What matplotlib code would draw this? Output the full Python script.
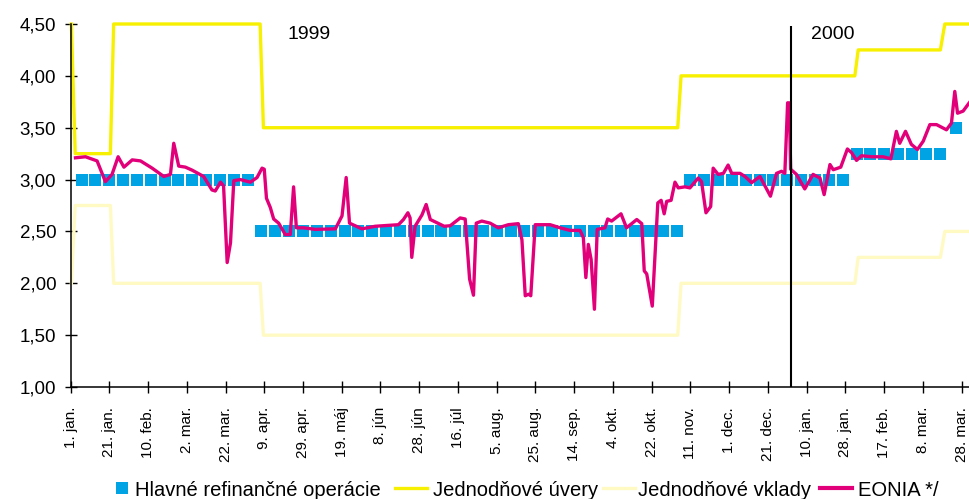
import matplotlib
matplotlib.use('Agg')
import matplotlib.pyplot as plt
from matplotlib.lines import Line2D

plt.rcParams['font.family'] = ['Liberation Sans', 'DejaVu Sans']

# ---- data (x = business-day index since 1 Jan 1999) ----
tick_days = [0, 14, 28, 42, 56, 70, 84, 98, 112, 126, 140, 154, 168, 182,
             196, 210, 224, 238, 252, 266, 280, 294, 308, 322]
tick_labels = ['1. jan.', '21. jan.', '10. feb.', '2. mar.', '22. mar.', '9. apr.',
               '29. apr.', '19. máj', '8. jún', '28. jún', '16. júl', '5. aug.',
               '25. aug.', '14. sep.', '4. okt.', '22. okt.', '11. nov.', '1. dec.',
               '21. dec.', '10. jan.', '28. jan.', '17. feb.', '8. mar.', '28. mar.']

# standing facilities (vertices of the step lines)
sf_days = [0.3, 1.7, 14.4, 15.6, 68.5, 69.7, 219.4, 220.6, 283.4, 284.6, 314.3, 315.9, 325]
lending_rate = [4.50, 3.25, 3.25, 4.50, 4.50, 3.50, 3.50, 4.00, 4.00, 4.25, 4.25, 4.50, 4.50]
deposit_rate = [2.00, 2.75, 2.75, 2.00, 2.00, 1.50, 1.50, 2.00, 2.00, 2.25, 2.25, 2.50, 2.50]

# main refinancing operations (weekly tenders): first day, last day, rate
mro_segments = [(4, 64, 3.00), (69, 219, 2.50), (224, 279, 3.00), (284, 314, 3.25), (320, 320, 3.50)]

# EONIA
eonia_days = [1.8, 5.4, 9.6, 12.6, 15.0, 17.2, 19.3, 22.3, 25.3, 29.5, 33.7, 36.1, 37.3, 39.1,
              41.5, 44.0, 48.1, 51.1, 52.3, 54.2, 55.3, 56.6, 57.8, 59.0, 61.4, 65.0, 67.4,
              69.2, 70.0, 70.8, 72.2, 73.4, 75.2, 77.6, 79.4, 80.6, 81.6, 84.2, 88.4, 95.7,
              98.1, 99.6, 100.8, 105.3, 110.1, 118.5, 120.3, 121.9, 122.7, 123.3, 124.5,
              127.0, 128.5, 130.0, 135.0, 137.2, 140.8, 142.6, 144.2, 145.6, 146.6, 148.6,
              151.6, 154.6, 158.2, 161.8, 163.1, 164.3, 165.5, 166.3, 167.9, 173.3, 176.9,
              180.5, 184.1, 185.3, 186.2, 187.1, 188.1, 189.3, 190.3, 193.1, 194.1, 195.5,
              198.9, 200.9, 204.6, 206.4, 207.3, 208.2, 210.2, 212.2, 213.4, 214.5, 215.4,
              217.0, 218.4, 219.6, 222.0, 223.8, 226.8, 228.0, 229.6, 231.3, 232.2, 234.0,
              235.9, 237.6, 238.9, 241.9, 243.7, 246.1, 249.1, 250.9, 252.9, 255.1, 256.9,
              258.1, 259.1, 259.7, 260.2, 262.3, 265.3, 268.3, 270.8, 272.3, 274.4, 275.6,
              278.3, 280.7, 282.2, 284.0, 285.8, 289.4, 293.6, 296.4, 298.4, 299.6, 301.7,
              303.8, 306.0, 308.1, 310.5, 312.9, 316.5, 318.3, 319.5, 320.5, 322.5, 325.0]
eonia_vals = [3.21, 3.22, 3.18, 2.98, 3.05, 3.22, 3.12, 3.19, 3.18, 3.11, 3.03, 3.05, 3.35, 3.13,
              3.12, 3.09, 3.03, 2.90, 2.89, 2.975, 2.94, 2.20, 2.39, 2.99, 3.00, 2.975, 3.02,
              3.11, 3.10, 2.82, 2.73, 2.62, 2.58, 2.47, 2.47, 2.93, 2.535, 2.535, 2.52, 2.525,
              2.65, 3.02, 2.58, 2.525, 2.55, 2.565, 2.615, 2.68, 2.63, 2.25, 2.55,
              2.66, 2.76, 2.615, 2.55, 2.555, 2.63, 2.62, 2.04, 1.885, 2.58, 2.60,
              2.58, 2.535, 2.565, 2.575, 2.42, 1.88, 1.895, 1.88, 2.565, 2.565, 2.535,
              2.51, 2.51, 2.44, 2.055, 2.375, 2.23, 1.75, 2.52, 2.535, 2.62, 2.60,
              2.67, 2.535, 2.615, 2.575, 2.12, 2.09, 1.78, 2.775, 2.80, 2.67, 2.79,
              2.80, 2.975, 2.92, 2.93, 2.92, 3.015, 2.98, 2.68, 2.74, 3.11, 3.05,
              3.06, 3.14, 3.06, 3.06, 3.03, 2.97, 3.03, 2.94, 2.84, 3.06, 3.08,
              3.06, 3.74, 3.74, 3.10, 3.05, 2.91, 3.05, 3.015, 2.855, 3.145, 3.095,
              3.12, 3.295, 3.26, 3.185, 3.23, 3.22, 3.22, 3.20, 3.465, 3.35, 3.465,
              3.34, 3.29, 3.37, 3.53, 3.53, 3.48, 3.545, 3.85, 3.64, 3.66, 3.75]

year_break = 260.5
year_labels = [(78.3, '1999'), (267.5, '2000')]

series_names = ['Hlavné refinančné operácie', 'Jednodňové úvery', 'Jednodňové vklady', 'EONIA */']

# ---- style ----
c_mro = '#00a3e4'
c_lend = '#f7f000'
c_dep = '#fffac4'
c_eonia = '#e2007a'

W, H = 970, 499
fig = plt.figure(figsize=(W / 100, H / 100), dpi=100)
ax = fig.add_axes([0.0727, 0.2244, 0.9273, 0.7275])

ax.plot(sf_days, deposit_rate, color=c_dep, lw=2.4, clip_on=False, zorder=2)
ax.plot(sf_days, lending_rate, color=c_lend, lw=2.4, clip_on=False, zorder=2)

mro_x, mro_y = [], []
for start, end, rate in mro_segments:
    for d in range(start, end + 1, 5):
        mro_x.append(d)
        mro_y.append(rate)
ax.plot(mro_x, mro_y, linestyle='none', marker='s', markersize=8.2,
        markeredgewidth=0, color=c_mro, zorder=3)

ax.plot(eonia_days, eonia_vals, color=c_eonia, lw=2.4, zorder=4,
        solid_joinstyle='round')

ax.vlines(year_break, 1.0, 4.48, color='black', lw=1.5, zorder=5)
for x, t in year_labels:
    ax.text(x, 4.40, t, fontsize=14, ha='left', va='center', zorder=6)

ax.set_xlim(0, 325)
ax.set_ylim(1.0, 4.5)
ax.set_xticks(tick_days)
ax.set_xticklabels(tick_labels, rotation=90, fontsize=11)
yt = [1.0, 1.5, 2.0, 2.5, 3.0, 3.5, 4.0, 4.5]
ax.set_yticks(yt)
ax.set_yticklabels([f'{v:.2f}'.replace('.', ',') for v in yt], fontsize=13.5)
ax.tick_params(axis='both', direction='inout', length=8.6, width=1.0, color='black')
ax.tick_params(axis='x', pad=10)
ax.tick_params(axis='y', pad=6)
for s in ['top', 'right']:
    ax.spines[s].set_visible(False)
for s in ['left', 'bottom']:
    ax.spines[s].set_linewidth(1.1)
    ax.spines[s].set_color('black')

# legend: one entry per legend so that spacing follows the reference
handles = [
    Line2D([], [], linestyle='none', marker='s', markersize=8.0, markeredgewidth=0, color=c_mro),
    Line2D([], [], color=c_lend, lw=2.4),
    Line2D([], [], color=c_dep, lw=2.4),
    Line2D([], [], color=c_eonia, lw=3.0),
]
legend_x_px = [114, 395, 603, 820]
handle_len = [0.8, 1.6, 1.6, 1.6]
pads = [0.25, 0.3, 0.15, 0.3]
for h, name, xp, hl, pd in zip(handles, series_names, legend_x_px, handle_len, pads):
    leg = fig.legend([h], [name], loc='center left', bbox_to_anchor=(xp / W, 0.018),
                     frameon=False, fontsize=14.5, handlelength=hl,
                     handletextpad=pd, borderpad=0, borderaxespad=0)

fig.savefig('out.png', dpi=100)
